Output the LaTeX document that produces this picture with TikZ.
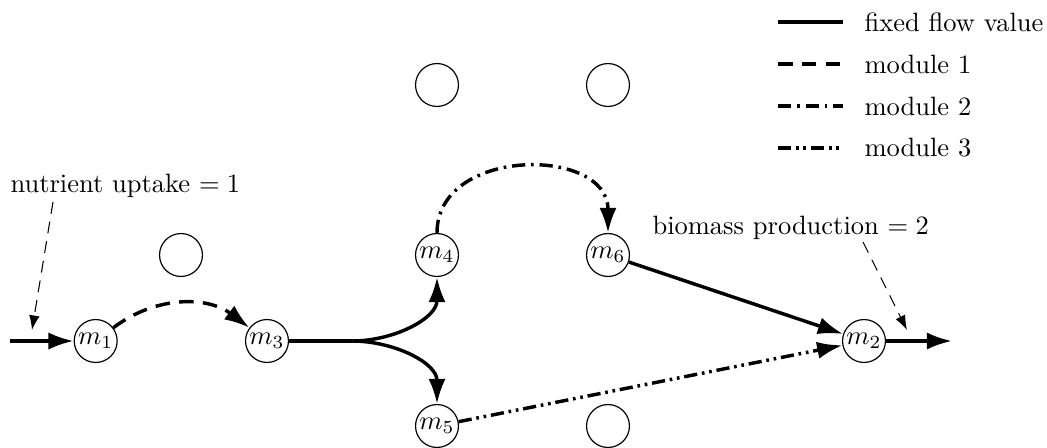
\documentclass[tikz,border=0pt]{standalone}
\usetikzlibrary{arrows.meta}
\begin{document}
\begin{tikzpicture}[x=0.3774pt,y=0.3774pt,
  met/.style={circle,draw,line width=0.45pt,minimum size=16.2pt,inner sep=0pt},
  flow/.style={line width=1.3pt,-{Latex[length=9.5pt,width=6.5pt]}},
  fixedflow/.style={line width=1.3pt},
  modone/.style={line width=1.3pt,dash pattern=on 5.5pt off 3.5pt},
  modtwo/.style={line width=1.3pt,dash pattern=on 5pt off 2.2pt on 1pt off 2.2pt},
  modthree/.style={line width=1.3pt,dash pattern=on 5pt off 1.8pt on 1pt off 1.8pt on 1pt off 1.8pt},
  annot/.style={line width=0.4pt,dash pattern=on 4.5pt off 3pt,-{Latex[length=5.5pt,width=4pt]}},
  lbl/.style={inner sep=0pt}
]
\useasboundingbox (0,0) rectangle (1047,447);
% metabolite nodes
\node[met] (m1) at (95.7,106) {$m_1$};
\node[met] (m3) at (267,106) {$m_3$};
\node[met] (m4) at (437,192) {$m_4$};
\node[met] (m6) at (608,192) {$m_6$};
\node[met] (m5) at (437,21) {$m_5$};
\node[met] (m2) at (864,106) {$m_2$};
% empty nodes
\node[met] (e1) at (181,192) {};
\node[met] (e2) at (437,362) {};
\node[met] (e3) at (608,362) {};
\node[met] (e4) at (608,21) {};
% free ends
\coordinate (in) at (10,106);
\coordinate (out) at (952,106);
\coordinate (br) at (352,106);
% flows
\draw[flow] (in) -- (m1);
\draw[flow,modone] (m1) to[bend left=37] (m3);
\draw[fixedflow] (m3) -- (br);
\draw[flow] (br) to[out=0,in=-90] (m4);
\draw[flow] (br) to[out=0,in=90] (m5);
\draw[flow,modtwo] (m4) to[out=90,in=90,looseness=1.3] (m6);
\draw[flow] (m6) -- (m2);
\draw[flow,modthree] (m5) -- (m2);
\draw[flow] (m2) -- (out);
% annotations
\node[lbl,anchor=base west] (nut) at (10,255) {nutrient uptake $= 1$};
\coordinate (nuts) at (53,245);
\coordinate (nute) at (32,117);
\draw[annot] (nuts) -- (nute);
\node[lbl,anchor=base west] (bio) at (652,213) {biomass production $= 2$};
\coordinate (bios) at (863,205);
\coordinate (bioe) at (907,117);
\draw[annot] (bios) -- (bioe);
% legend
\coordinate (l1a) at (778,425); \coordinate (l1b) at (843,425);
\coordinate (l2a) at (778,383); \coordinate (l2b) at (843,383);
\coordinate (l3a) at (778,341); \coordinate (l3b) at (843,341);
\coordinate (l4a) at (778,299); \coordinate (l4b) at (843,299);
\draw[fixedflow] (l1a) -- (l1b);
\draw[modone] (l2a) -- (l2b);
\draw[modtwo] (l3a) -- (l3b);
\draw[modthree] (l4a) -- (l4b);
\node[lbl,anchor=west] (t1) at (864,425) {fixed flow value};
\node[lbl,anchor=west] (t2) at (864,383) {module 1};
\node[lbl,anchor=west] (t3) at (864,341) {module 2};
\node[lbl,anchor=west] (t4) at (864,299) {module 3};
\end{tikzpicture}
\end{document}
